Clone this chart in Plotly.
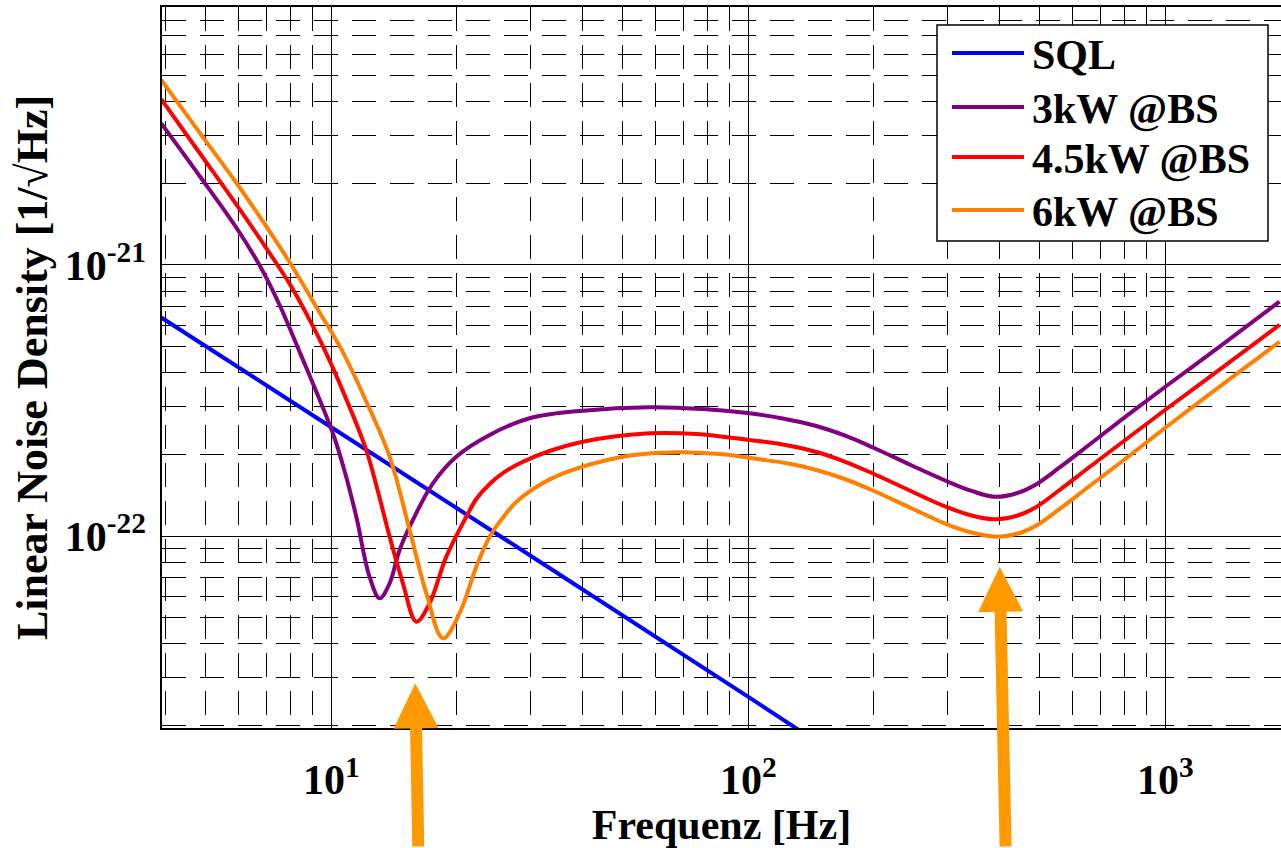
import plotly.graph_objects as go
import math

# ---------------- data ----------------
sql_freq = [3.91, 10.0, 100.0, 200.0]
sql_val = [6.40e-22, 2.52e-22, 2.55e-23, 1.26e-23]

kw3_freq = [3.91, 4.833, 5.97, 6.806, 7.516, 8.395, 10.09, 10.76, 11.48, 12.35,
            13.06, 13.80, 14.58, 15.69, 17.52, 19.94, 23.97, 29.89, 40.12,
            57.99, 79.3, 100.7, 120.9, 145.6, 170.2, 199.0, 243.7, 298.4,
            343.2, 389.7, 442.4, 490.6, 557.8, 658.3, 798.8, 1005.6, 1387.6,
            1879.0]
kw3_val = [3.33e-21, 2.13e-21, 1.346e-21, 9.67e-22, 7.12e-22, 4.78e-22,
           2.39e-22, 1.738e-22, 1.178e-22, 7.08e-23, 5.89e-23, 6.69e-23,
           8.88e-23, 1.146e-22, 1.565e-22, 1.962e-22, 2.36e-22, 2.72e-22,
           2.90e-22, 2.985e-22, 2.934e-22, 2.836e-22, 2.715e-22, 2.546e-22,
           2.349e-22, 2.121e-22, 1.836e-22, 1.596e-22, 1.466e-22, 1.396e-22,
           1.442e-22, 1.553e-22, 1.790e-22, 2.176e-22, 2.738e-22, 3.577e-22,
           5.156e-22, 7.32e-22]

kw45_freq = [3.91, 4.833, 5.97, 7.11, 8.02, 8.872, 9.638, 10.76, 12.13, 12.91,
             13.80, 14.85, 15.99, 17.21, 18.87, 21.08, 22.27, 23.97, 26.03,
             28.81, 33.38, 40.12, 57.99, 75.04, 100.7, 120.9, 145.6, 170.2,
             199.0, 243.7, 298.4, 343.2, 389.7, 442.4, 490.6, 557.8, 658.3,
             798.8, 1005.6, 1387.6, 1879.0]
kw45_val = [4.09e-21, 2.59e-21, 1.641e-21, 1.107e-21, 8.32e-22, 6.27e-22,
            4.86e-22, 3.31e-22, 2.076e-22, 1.478e-22, 9.94e-23, 6.69e-23,
            4.83e-23, 5.65e-23, 8.39e-23, 1.178e-22, 1.369e-22, 1.555e-22,
            1.723e-22, 1.88e-22, 2.059e-22, 2.228e-22, 2.393e-22, 2.379e-22,
            2.26e-22, 2.176e-22, 2.042e-22, 1.883e-22, 1.701e-22, 1.472e-22,
            1.28e-22, 1.190e-22, 1.152e-22, 1.190e-22, 1.28e-22, 1.478e-22,
            1.797e-22, 2.251e-22, 2.942e-22, 4.24e-22, 6.01e-22]

kw6_freq = [3.91, 4.833, 5.97, 6.918, 8.02, 9.171, 10.59, 12.09, 13.80, 15.41,
            16.90, 18.52, 20.31, 22.27, 23.97, 25.75, 27.77, 31.58, 35.93,
            50.04, 62.40, 85.35, 106.4, 125.6, 145.6, 170.2, 199.0, 243.7,
            298.4, 343.2, 393.9, 447.3, 490.6, 557.8, 658.3, 798.8, 1005.6,
            1387.6, 1879.0]
kw6_val = [4.82e-21, 3.08e-21, 1.973e-21, 1.417e-21, 1.0e-21, 7.06e-22,
           4.86e-22, 3.17e-22, 1.962e-22, 1.052e-22, 6.14e-23, 4.19e-23,
           5.19e-23, 7.70e-23, 9.94e-23, 1.165e-22, 1.335e-22, 1.542e-22,
           1.703e-22, 1.962e-22, 2.03e-22, 2.008e-22, 1.919e-22, 1.847e-22,
           1.752e-22, 1.623e-22, 1.472e-22, 1.274e-22, 1.107e-22, 1.030e-22,
           9.94e-23, 1.026e-22, 1.094e-22, 1.258e-22, 1.529e-22, 1.916e-22,
           2.524e-22, 3.67e-22, 5.21e-22]

series_names = ["SQL", "3kW @BS", "4.5kW @BS", "6kW @BS"]
series_colors = ["#0000FF", "#800080", "#FF0000", "#FF8000"]

x_tickvals = [10, 100, 1000]
x_ticktext = ["10<sup>1</sup>", "10<sup>2</sup>", "10<sup>3</sup>"]
y_tickvals = [1e-22, 1e-21]
y_ticktext = ["10<sup>-22</sup>", "10<sup>-21</sup>"]

# arrow markers (frequency, value of the tip)
arrow_tips = [(15.9, 2.86e-23), (400.6, 7.70e-23)]

FONT = "Liberation Serif"

fig = go.Figure()
all_series = [(sql_freq, sql_val), (kw3_freq, kw3_val),
              (kw45_freq, kw45_val), (kw6_freq, kw6_val)]
for (fx, fy), name, col in zip(all_series, series_names, series_colors):
    fig.add_trace(go.Scatter(
        x=fx, y=fy, mode="lines", name=name, showlegend=False,
        line=dict(color=col, width=4, shape="spline", smoothing=1.0)))

# plot area geometry in pixels (for the hand-drawn legend)
W, H = 1281, 848
L, R, T, B = 162, 0, 7, 120
pw, ph = W - L - R, H - T - B

def px(x):
    return (x - L) / pw

def py(y):
    return (H - B - y) / ph

# legend box
fig.add_shape(type="rect", xref="paper", yref="paper",
              x0=px(937), x1=px(1268), y0=py(241), y1=py(25),
              fillcolor="white", line=dict(color="black", width=1.5),
              layer="above")
row_y = [53, 107, 157, 210]
for ry, name, col in zip(row_y, series_names, series_colors):
    fig.add_shape(type="line", xref="paper", yref="paper",
                  x0=px(952), x1=px(1024), y0=py(ry), y1=py(ry),
                  line=dict(color=col, width=4), layer="above")
    fig.add_annotation(xref="paper", yref="paper", x=px(1030), y=py(ry + 2),
                       text=name, showarrow=False, xanchor="left",
                       yanchor="middle",
                       font=dict(family=FONT, size=42, weight="bold",
                                 color="black"))

# orange arrows
arrow_offsets = [(3, 180), (6, 293)]
for (af, av), (axo, ayo) in zip(arrow_tips, arrow_offsets):
    fig.add_annotation(x=math.log10(af), y=math.log10(av), xref="x", yref="y",
                       text="", showarrow=True, arrowhead=2, arrowsize=0.75,
                       arrowwidth=12, arrowcolor="#FF9900", ax=axo, ay=ayo,
                       standoff=0)

dash = "24px,14px"
fig.update_xaxes(
    type="log", range=[0.594, 0.594 + pw / 417.0],
    tickmode="array", tickvals=x_tickvals, ticktext=x_ticktext,
    ticks="", showgrid=True, gridcolor="black", gridwidth=1,
    showline=True, mirror=True, linecolor="black", linewidth=1.5,
    zeroline=False, ticklabelstandoff=14,
    minor=dict(showgrid=True, gridcolor="black", gridwidth=1,
               griddash=dash, dtick="D1", ticks=""),
    tickfont=dict(family=FONT, size=42, weight="bold", color="black"),
    title=dict(text="Frequenz [Hz]", standoff=4,
               font=dict(family=FONT, size=42, weight="bold", color="black")),
)
fig.update_yaxes(
    type="log", range=[-22.7085, -20.048],
    tickmode="array", tickvals=y_tickvals, ticktext=y_ticktext,
    ticks="", showgrid=True, gridcolor="black", gridwidth=1,
    showline=True, mirror=False, linecolor="black", linewidth=1.5,
    zeroline=False, ticklabelstandoff=6,
    minor=dict(showgrid=True, gridcolor="black", gridwidth=1,
               griddash=dash, dtick="D1", ticks=""),
    tickfont=dict(family=FONT, size=42, weight="bold", color="black"),
    title=dict(text="Linear Noise Density [1/\u221aHz]", standoff=3,
               font=dict(family=FONT, size=44, weight="bold", color="black")),
)
fig.update_layout(
    width=W, height=H,
    margin=dict(l=L, r=R, t=T, b=B, pad=0),
    paper_bgcolor="white", plot_bgcolor="white",
    showlegend=False,
)
fig.write_html("out.html", config={"displayModeBar": False},
               post_script="document.body.style.margin='0';")
